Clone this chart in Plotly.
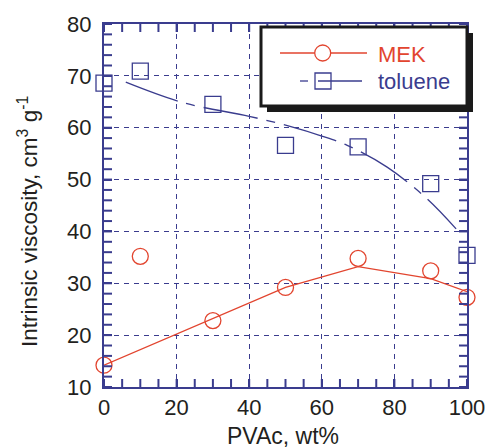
import plotly.graph_objects as go

# ---- data ----
pvac = [0, 10, 30, 50, 70, 90, 100]
mek_visc = [14.2, 35.2, 22.8, 29.2, 34.8, 32.4, 27.3]
tol_visc = [68.6, 70.9, 64.5, 56.6, 56.3, 49.2, 35.4]

mek_fit_x = [0, 50, 70, 90, 100]
mek_fit_y = [14.2, 29.2, 33.2, 30.9, 28.4]

tol_fit_x = [6, 22, 40, 51, 60, 67, 78, 89, 97]
tol_fit_y = [68.8, 64.8, 62.2, 60.3, 58.4, 56.6, 52.4, 46.3, 40.5]

x_ticks = [0, 20, 40, 60, 80, 100]
y_ticks = [10, 20, 30, 40, 50, 60, 70, 80]
x_minor_step = 5
y_minor_step = 2

RED = "#e2452f"
NAVY = "#3a3c8e"
TXT = "#231f20"
FONT = "Liberation Sans, Arial, sans-serif"

# plot area in pixels
L, R, T, B = 104, 467, 24, 387
W, H = 488, 448


def px(xp):
    return (xp - L) / (R - L)


def py(yp):
    return (B - yp) / (B - T)


fig = go.Figure()

fig.add_trace(go.Scatter(x=mek_fit_x, y=mek_fit_y, mode="lines",
                         line=dict(color=RED, width=1.3), showlegend=False, hoverinfo="skip"))
fig.add_trace(go.Scatter(x=tol_fit_x, y=tol_fit_y, mode="lines", line_shape="spline",
                         line=dict(color=NAVY, width=1.3, dash="55px,9px,9px,9px"),
                         showlegend=False, hoverinfo="skip"))
fig.add_trace(go.Scatter(x=pvac, y=mek_visc, mode="markers", name="MEK",
                         marker=dict(symbol="circle-open", size=16, color=RED, line=dict(width=1.3)),
                         showlegend=False, cliponaxis=False))
fig.add_trace(go.Scatter(x=pvac, y=tol_visc, mode="markers", name="toluene",
                         marker=dict(symbol="square-open", size=16, color=NAVY, line=dict(width=1.3)),
                         showlegend=False, cliponaxis=False))

axis_common = dict(
    showline=True, linecolor=NAVY, linewidth=2, mirror="ticks",
    ticks="inside", ticklen=8, tickcolor=NAVY, tickwidth=2,
    showgrid=True, gridcolor=NAVY, gridwidth=1, griddash="5px,5px",
    zeroline=False, automargin=False,
    tickfont=dict(family=FONT, size=22, color=TXT),
)

fig.update_xaxes(range=[x_ticks[0], x_ticks[-1]], tickmode="linear", tick0=x_ticks[0],
                 dtick=x_ticks[1] - x_ticks[0], **axis_common)
fig.update_yaxes(range=[y_ticks[0], y_ticks[-1]], tickmode="linear", tick0=y_ticks[0],
                 dtick=y_ticks[1] - y_ticks[0], ticklabelstandoff=6, **axis_common)

shapes = []
# minor ticks on all four sides
tl_y = 8 / (B - T)
tl_x = 8 / (R - L)
v = x_ticks[0]
while v <= x_ticks[-1]:
    for y0, y1 in ((0, tl_y), (1, 1 - tl_y)):
        shapes.append(dict(type="line", xref="x", yref="paper", x0=v, x1=v, y0=y0, y1=y1,
                           line=dict(color=NAVY, width=2), layer="above"))
    v += x_minor_step
v = y_ticks[0]
while v <= y_ticks[-1]:
    for x0, x1 in ((0, tl_x), (1, 1 - tl_x)):
        shapes.append(dict(type="line", xref="paper", yref="y", x0=x0, x1=x1, y0=v, y1=v,
                           line=dict(color=NAVY, width=2), layer="above"))
    v += y_minor_step

# ---- legend drawn manually ----
bx0, by0, bx1, by1 = 261, 27, 467, 106
sh = 6
shapes += [
    dict(type="rect", xref="paper", yref="paper", x0=px(bx0 + sh), x1=px(bx1 + sh),
         y0=py(by1 + sh), y1=py(by0 + sh), fillcolor="#1a1a1a", line=dict(width=0), layer="above"),
    dict(type="rect", xref="paper", yref="paper", x0=px(bx0), x1=px(bx1),
         y0=py(by1), y1=py(by0), fillcolor="white", line=dict(color="#1a1a1a", width=3), layer="above"),
    dict(type="line", xref="paper", yref="paper", x0=px(280), x1=px(367), y0=py(53), y1=py(53),
         line=dict(color=RED, width=1.3), layer="above"),
    dict(type="circle", xref="paper", yref="paper", x0=px(322.7 - 8), x1=px(322.7 + 8),
         y0=py(53 + 8), y1=py(53 - 8), line=dict(color=RED, width=1.3), fillcolor="white", layer="above"),
    dict(type="line", xref="paper", yref="paper", x0=px(300), x1=px(308), y0=py(81), y1=py(81),
         line=dict(color=NAVY, width=1.3), layer="above"),
    dict(type="line", xref="paper", yref="paper", x0=px(318), x1=px(362), y0=py(81), y1=py(81),
         line=dict(color=NAVY, width=1.3), layer="above"),
    dict(type="rect", xref="paper", yref="paper", x0=px(315), x1=px(331),
         y0=py(89), y1=py(73), line=dict(color=NAVY, width=1.3), fillcolor="rgba(0,0,0,0)", layer="above"),
]
fig.update_layout(shapes=shapes)

fig.add_annotation(xref="paper", yref="paper", x=px(376), y=py(55), text="MEK", showarrow=False,
                   xanchor="left", yanchor="middle", font=dict(family=FONT, size=22, color=RED))
fig.add_annotation(xref="paper", yref="paper", x=px(376), y=py(82), text="toluene", showarrow=False,
                   xanchor="left", yanchor="middle", font=dict(family=FONT, size=22, color=NAVY))

# axis titles
fig.add_annotation(xref="paper", yref="paper", x=px(283), y=py(436), text="PVAc, wt%", showarrow=False,
                   xanchor="center", yanchor="middle", font=dict(family=FONT, size=23, color=TXT))
fig.add_annotation(xref="paper", yref="paper", x=px(28), y=py(222),
                   text="Intrinsic viscosity, cm<sup>3</sup> g<sup>-1</sup>", showarrow=False,
                   textangle=-90, xanchor="center", yanchor="middle",
                   font=dict(family=FONT, size=22.5, color=TXT))

fig.update_layout(
    width=W, height=H,
    margin=dict(l=L, r=W - R, t=T, b=H - B),
    plot_bgcolor="white", paper_bgcolor="white",
    showlegend=False,
)

fig.write_html("out.html")
